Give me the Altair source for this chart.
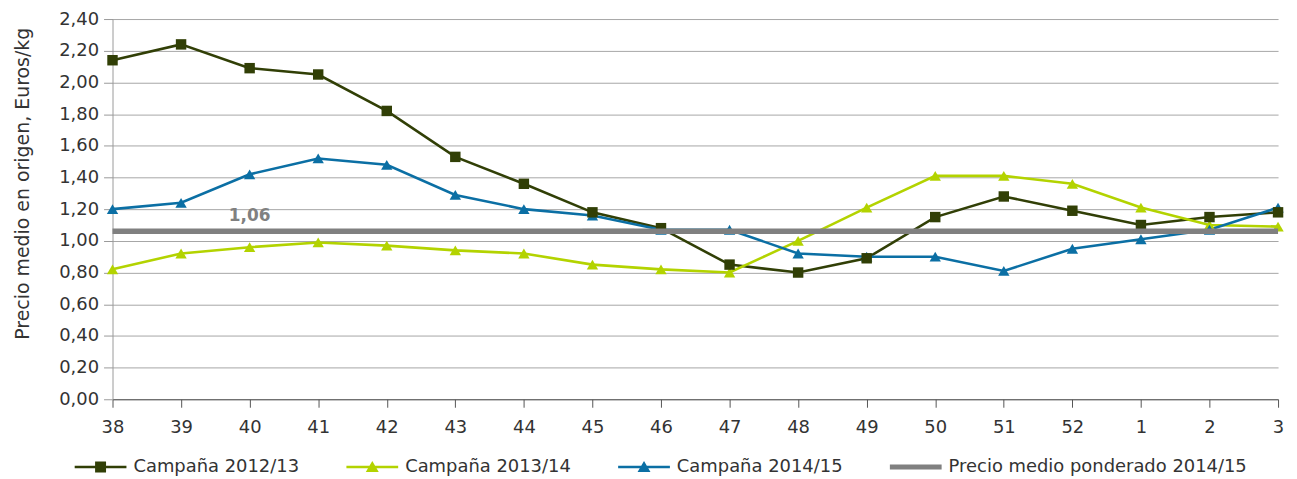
import altair as alt
import pandas as pd

weeks = ["38", "39", "40", "41", "42", "43", "44", "45", "46", "47", "48", "49", "50", "51", "52", "1", "2", "3"]
c1213 = [2.14, 2.24, 2.09, 2.05, 1.82, 1.53, 1.36, 1.18, 1.08, 0.85, 0.80, 0.89, 1.15, 1.28, 1.19, 1.10, 1.15, 1.18]
c1314 = [0.82, 0.92, 0.96, 0.99, 0.97, 0.94, 0.92, 0.85, 0.82, 0.80, 1.00, 1.21, 1.41, 1.41, 1.36, 1.21, 1.10, 1.09]
c1415 = [1.20, 1.24, 1.42, 1.52, 1.48, 1.29, 1.20, 1.16, 1.07, 1.07, 0.92, 0.90, 0.90, 0.81, 0.95, 1.01, 1.07, 1.21]
avg_value = 1.06
avg_label = "1,06"
label_week = "40"

s1, s2, s3, s4 = "Campaña 2012/13", "Campaña 2013/14", "Campaña 2014/15", "Precio medio ponderado 2014/15"
series_names = [s1, s2, s3, s4]
colors = ["#313f06", "#b3d300", "#0b6fa4", "#808080"]
color_of = dict(zip(series_names, colors))

rows = []
for name, vals in [(s1, c1213), (s2, c1314), (s3, c1415)]:
    for w, v in zip(weeks, vals):
        rows.append({"semana": w, "precio": v, "serie": name, "col": color_of[name]})
df = pd.DataFrame(rows)
df_avg = pd.DataFrame({"semana": weeks, "precio": [avg_value] * len(weeks), "serie": s4, "col": color_of[s4]})
df_lbl = pd.DataFrame({"semana": [label_week], "precio": [avg_value], "txt": [avg_label]})

FONT = "DejaVu Sans"
TXT = "#333333"

x_enc = alt.X("semana:N", sort=weeks, scale=alt.Scale(type="point", padding=0),
              axis=alt.Axis(title=None, labelAngle=0, labelFontSize=18, labelPadding=11,
                            tickSize=8, tickColor="#555555", domainColor="#555555",
                            labelColor=TXT, grid=False))
y_enc = alt.Y("precio:Q", scale=alt.Scale(domain=[0, 2.4], nice=False),
              axis=alt.Axis(title="Precio medio en origen, Euros/kg", titleFontSize=19,
                            titleFontWeight="normal", titleColor=TXT, titlePadding=26, titleY=165,
                            values=[round(i * 0.2, 2) for i in range(13)],
                            labelExpr="replace(format(datum.value, '.2f'), '.', ',')",
                            labelFontSize=18, labelColor=TXT, tickSize=9,
                            tickColor="#999999", domainColor="#999999",
                            gridColor="#a6a6a6", gridWidth=1, labelPadding=5))

col_direct = alt.Color("col:N", scale=None)

lines = alt.Chart(df).mark_line(strokeWidth=2.6).encode(
    x=x_enc, y=y_enc, color=col_direct, detail="serie:N")

squares = alt.Chart(df).transform_filter(alt.datum.serie == s1).mark_point(
    shape="square", filled=True, opacity=1, size=110).encode(x=x_enc, y=y_enc, color=col_direct)

triangles = alt.Chart(df).transform_filter(alt.datum.serie != s1).mark_point(
    shape="triangle-up", filled=True, opacity=1, size=130).encode(x=x_enc, y=y_enc, color=col_direct)

avg_line = alt.Chart(df_avg).mark_line(strokeWidth=5.5).encode(x=x_enc, y=y_enc, color=col_direct)

label = alt.Chart(df_lbl).mark_text(font=FONT, fontSize=17, fontWeight="bold", color="#808080",
                                    baseline="alphabetic", dy=-10).encode(x=x_enc, y=y_enc, text="txt:N")

# legend symbols: custom paths (unit = 10 px), line spanning 52 px, marker at its middle
sq = "M-1,-0.13H4.2V0.13H-1Z M1.05,-0.55H2.15V0.55H1.05Z"
tri = "M-1,-0.13H4.2V0.13H-1Z M1.6,-0.6L2.25,0.5H0.95Z"
bar = "M-1,-0.25H4.2V0.25H-1Z"

leg = alt.Legend(title=None, orient="none", legendX=-38, legendY=440, direction="horizontal",
                 columns=4, symbolSize=400, symbolStrokeWidth=0, labelFontSize=18,
                 labelColor=TXT, columnPadding=47, labelOffset=39, labelLimit=500,
                 symbolOpacity=1, padding=0)

# carrier of the legend: one gray bar symbol lying hidden under the average line
legend_layer = alt.Chart(df_avg).transform_filter(alt.datum.semana == "45").mark_point(
    filled=True, strokeWidth=0).encode(
    x=x_enc, y=y_enc,
    color=alt.Color("serie:N", scale=alt.Scale(domain=series_names, range=colors), legend=leg),
    shape=alt.Shape("serie:N", scale=alt.Scale(domain=series_names, range=[sq, tri, tri, bar]), legend=leg),
    size=alt.value(400))

chart = alt.layer(lines, legend_layer, triangles, squares, avg_line, label).properties(
    width=1171, height=382, padding={"top": 1, "left": 5, "right": 0, "bottom": 0}
).configure(font=FONT).configure_view(stroke=None).configure_axis(labelFont=FONT, titleFont=FONT
).configure_legend(labelFont=FONT)

chart.save("out.html", embed_options={"renderer": "svg", "actions": False})
